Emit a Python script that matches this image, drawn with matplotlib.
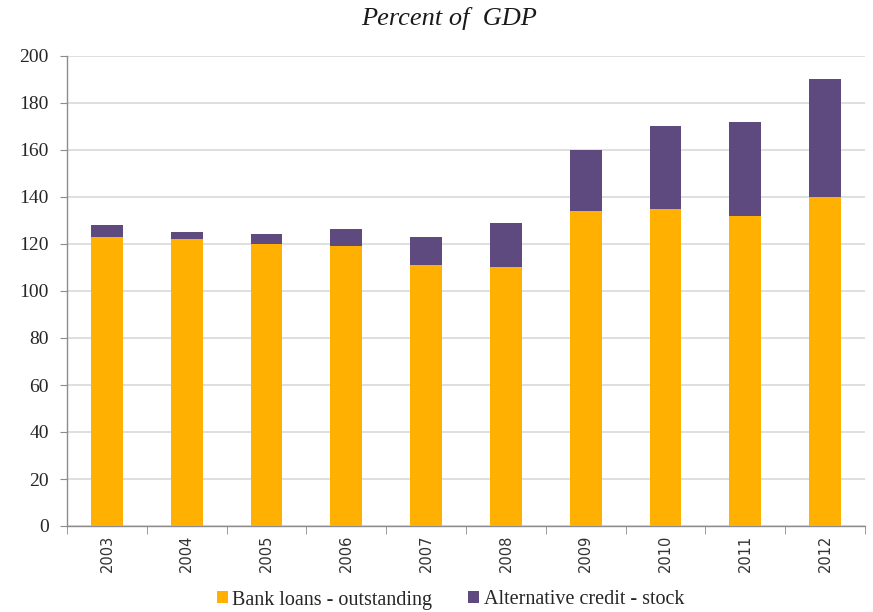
import matplotlib
matplotlib.use("Agg")
import matplotlib.pyplot as plt
import numpy as np

years = ["2003", "2004", "2005", "2006", "2007", "2008", "2009", "2010", "2011", "2012"]
bank_loans = [123, 122, 120, 119, 111, 110, 134, 135, 132, 140]
alt_credit = [5, 3, 4.3, 7.2, 12, 19, 26, 35, 40, 50]
y_ticks = [0, 20, 40, 60, 80, 100, 120, 140, 160, 180, 200]

ORANGE = "#FFB000"
PURPLE = "#5E4A7E"
GRID = "#D9D9D9"
AXIS = "#8C8C8C"

fig = plt.figure(figsize=(8.73, 6.12), dpi=100)
ax = fig.add_axes([67 / 873, 86 / 612, (865 - 67) / 873, (526 - 56) / 612])

x = np.arange(len(years))
width = 0.4
ax.bar(x, bank_loans, width, color=ORANGE, label="Bank loans - outstanding", zorder=3)
ax.bar(x, alt_credit, width, bottom=bank_loans, color=PURPLE,
       label="Alternative credit - stock", zorder=3)

ax.set_xlim(-0.5, len(years) - 0.5)
ax.set_ylim(0, 200)
ax.set_yticks(y_ticks)
ax.set_yticklabels([str(v) for v in y_ticks], family="Liberation Serif", fontsize=14,
                   color="#262626")
ax.yaxis.grid(True, color=GRID, linewidth=1.2, zorder=0)

# category labels at centres, tick marks at category boundaries
ax.set_xticks(x)
ax.set_xticklabels(years, rotation=90, family=["Liberation Sans Narrow", "DejaVu Sans"],
                   fontsize=10.5, color="#333333")
ax.tick_params(axis="x", length=0, pad=6)
ax.set_xticks(np.arange(-0.5, len(years) + 0.5, 1), minor=True)
ax.tick_params(axis="x", which="minor", length=6, color=AXIS, direction="out")
ax.tick_params(axis="y", length=5, color=AXIS, direction="out", pad=8)

for side in ("top", "right"):
    ax.spines[side].set_visible(False)
for side in ("left", "bottom"):
    ax.spines[side].set_color(AXIS)
    ax.spines[side].set_linewidth(1.0)

fig.text(0.514, 1 - 18 / 612, "Percent of  GDP", ha="center", va="center",
         family="Liberation Serif", style="italic", fontsize=19, color="#1a1a1a")

leg = fig.legend(loc="center", bbox_to_anchor=(0.516, 1 - 600 / 612), ncol=2,
                 frameon=False, prop={"family": "Liberation Serif", "size": 14.5},
                 handlelength=0.55, handleheight=0.55, handletextpad=0.2,
                 columnspacing=1.8)
for t in leg.get_texts():
    t.set_color("#262626")

fig.savefig("out.png", dpi=100)
